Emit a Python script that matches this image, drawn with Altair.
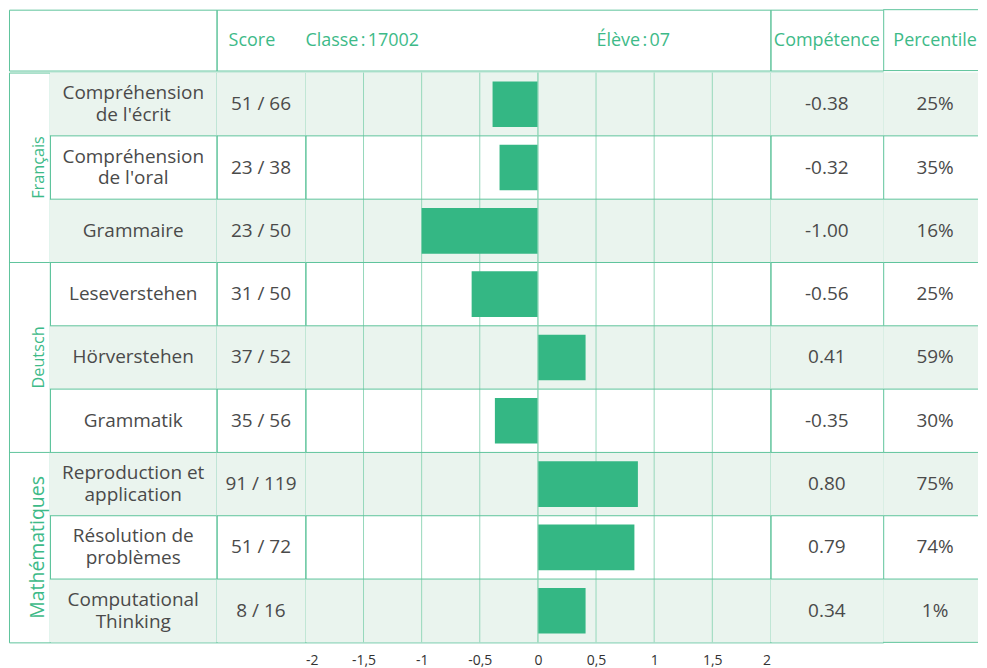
import altair as alt
import pandas as pd

# ---------------- data ----------------
groups = ["Français", "Deutsch", "Mathématiques"]
group_sizes = [3, 3, 3]
labels = [
    "Compréhension\nde l'écrit",
    "Compréhension\nde l'oral",
    "Grammaire",
    "Leseverstehen",
    "Hörverstehen",
    "Grammatik",
    "Reproduction et\napplication",
    "Résolution de\nproblèmes",
    "Computational\nThinking",
]
scores = ["51 / 66", "23 / 38", "23 / 50", "31 / 50", "37 / 52", "35 / 56", "91 / 119", "51 / 72", "8 / 16"]
bar_values = [-0.39, -0.33, -1.00, -0.57, 0.41, -0.37, 0.86, 0.83, 0.41]
competence = ["-0.38", "-0.32", "-1.00", "-0.56", "0.41", "-0.35", "0.80", "0.79", "0.34"]
percentile = ["25%", "35%", "16%", "25%", "59%", "30%", "75%", "74%", "1%"]
ticks = [-2, -1.5, -1, -0.5, 0, 0.5, 1, 1.5, 2]

header_score = "Score"
header_class = "Classe\u202f:\u202f17002"
header_student = "Élève\u202f:\u202f07"
header_comp = "Compétence"
header_pct = "Percentile"

# ---------------- styles ----------------
GREEN = "#3dba88"
LINE = "#5ec49c"
GRID = "#96d8bb"
BAR = "#34b784"
SHADE = "#eaf4ee"
TEXT = "#4a4a4a"
FONT = "Open Sans"
NO_STROKE = alt.ViewBackground(stroke="transparent")

H_HEAD, H_BODY = 61, 571
W_CAT, W_LABEL, W_SCORE, W_CHART, W_COMP, W_PCT = 41, 167, 89, 466, 113, 95
LINE_H = 22  # px between the two lines of a wrapped label

# ---------------- tables ----------------
group_of_row = [g for g, n in zip(groups, group_sizes) for _ in range(n)]
rows = pd.DataFrame({
    "label": labels, "score": scores, "bar": bar_values,
    "comp": competence, "pct": percentile, "group": group_of_row,
})
rows["row"] = range(len(rows))
N = len(rows)
HALF_LINE = (LINE_H / 2) / (H_BODY / N)  # half a text line, in row units

grp = []
start = 0
for g, n in zip(groups, group_sizes):
    grp.append({"group": g, "start": start, "end": start + n})
    start += n
gdf = pd.DataFrame(grp)
tick_df = pd.DataFrame({"t": ticks})

yscale = alt.Scale(domain=[0, N], reverse=True, nice=False, zero=False)


def row_y(field):
    return alt.Y(field, type="quantitative", scale=yscale, axis=None)


def base_rows():
    return alt.Chart(rows).transform_calculate(
        top="datum.row", bot="datum.row + 1", mid="datum.row + 0.5",
        btop="datum.row + 0.14", bbot="datum.row + 0.86",
    )


def shading():
    return base_rows().transform_filter("datum.row % 2 == 0").mark_rect(
        color=SHADE).encode(y=row_y("top:Q"), y2="bot:Q")


def row_lines(last=False):
    cond = f"datum.row < {N}" if last else f"datum.row < {N - 1}"
    return base_rows().transform_filter(cond).mark_rule(
        color=LINE, strokeWidth=1).encode(y=row_y("bot:Q"))


def cell_text(chart, field, cx, yfield="mid:Q"):
    return chart.mark_text(
        font=FONT, fontSize=19, color=TEXT, baseline="middle", align="center",
    ).encode(x=alt.value(cx), y=row_y(yfield), text=f"{field}:N")


def text_panel(field, width, cx=None, open_right=False):
    cx = width / 2 if cx is None else cx
    txt = cell_text(base_rows(), field, cx)
    p = alt.layer(shading(), row_lines(open_right), txt).properties(width=width, height=H_BODY)
    if open_right:
        p = p.properties(view=NO_STROKE)
    return p


# label column: wrapped labels, two lines centred on the row
lab = base_rows().transform_calculate(
    parts="split(datum.label, '\\n')",
).transform_calculate(
    l1="datum.parts[0]",
    l2="length(datum.parts) > 1 ? datum.parts[1] : ''",
    y1=f"datum.row + 0.5 - (length(datum.parts) > 1 ? {HALF_LINE} : 0)",
    y2=f"datum.row + 0.5 + {HALF_LINE}",
)
label_panel = alt.layer(
    shading(), row_lines(),
    cell_text(lab, "l1", W_LABEL / 2, "y1:Q"),
    cell_text(lab, "l2", W_LABEL / 2, "y2:Q"),
).properties(width=W_LABEL, height=H_BODY)

# category column
cat_lines = alt.Chart(gdf).transform_filter("datum.start > 0").mark_rule(
    color=LINE).encode(y=row_y("start:Q"))
cat_text = alt.Chart(gdf).transform_calculate(
    mid="(datum.start + datum.end) / 2").mark_text(
    angle=270, color=GREEN, font=FONT, baseline="alphabetic", align="center",
).encode(
    x=alt.value(35), y=row_y("mid:Q"), text="group:N",
    size=alt.when(alt.datum.group == "Mathématiques").then(alt.value(19.5)).otherwise(alt.value(16.3)),
)
cat_panel = alt.layer(cat_lines, cat_text).properties(width=W_CAT, height=H_BODY)

# chart column
xscale = alt.Scale(domain=[ticks[0], ticks[-1]], nice=False, zero=False)
grid = alt.Chart(tick_df).transform_filter(
    f"datum.t > {ticks[0]} && datum.t < {ticks[-1]}").mark_rule(color=GRID).encode(
    x=alt.X("t:Q", scale=xscale, axis=alt.Axis(
        values=ticks, labelExpr="replace(toString(datum.value), '.', ',')",
        grid=False, ticks=False, domain=False, labelFontSize=14, labelColor="#333333",
        labelPadding=11, labelFont=FONT, title=None)))
bars = base_rows().mark_rect(color=BAR).encode(
    x=alt.X("bar:Q", scale=xscale), x2=alt.X2(datum=0),
    y=row_y("btop:Q"), y2="bbot:Q")
zero = alt.Chart(pd.DataFrame({"t": [0]})).mark_rule(color=GRID).encode(x=alt.X("t:Q", scale=xscale))
chart_panel = alt.layer(shading(), grid, row_lines(), bars, zero).properties(width=W_CHART, height=H_BODY)

body = alt.hconcat(
    cat_panel,
    label_panel,
    text_panel("score", W_SCORE),
    chart_panel,
    text_panel("comp", W_COMP),
    text_panel("pct", W_PCT, cx=52, open_right=True),
    spacing=0, bounds="flush",
)


# header
def head_text(txt, x, align):
    return alt.Chart(pd.DataFrame({"t": [txt]})).mark_text(
        font=FONT, fontSize=18, color=GREEN, baseline="middle", align=align,
    ).encode(x=alt.value(x), y=alt.value(H_HEAD / 2 + 1), text="t:N")


h1 = head_text("", 0, "left").properties(width=W_CAT + W_LABEL, height=H_HEAD)
h2 = alt.layer(
    head_text(header_score, 12, "left"),
    head_text(header_class, W_SCORE, "left"),
    head_text(header_student, W_SCORE + 0.705 * W_CHART, "center"),
).properties(width=W_SCORE + W_CHART, height=H_HEAD)
h3 = head_text(header_comp, W_COMP / 2, "center").properties(width=W_COMP, height=H_HEAD)
h4_lines = alt.Chart(pd.DataFrame({"t": [0, 1]})).mark_rule(color=LINE).encode(
    y=alt.Y("t:Q", scale=alt.Scale(domain=[0, 1], nice=False, zero=False), axis=None))
h4 = alt.layer(h4_lines, head_text(header_pct, 52, "center")).properties(
    width=W_PCT, height=H_HEAD, view=NO_STROKE)
header = alt.hconcat(h1, h2, h3, h4, spacing=0, bounds="flush")

chart = alt.vconcat(header, body, spacing=0).properties(
    padding={"left": 0, "top": 0, "right": 0, "bottom": 0}
).configure(font=FONT).configure_view(stroke=LINE, strokeWidth=1)

chart.save("out.html", embed_options={"renderer": "svg", "actions": False})
